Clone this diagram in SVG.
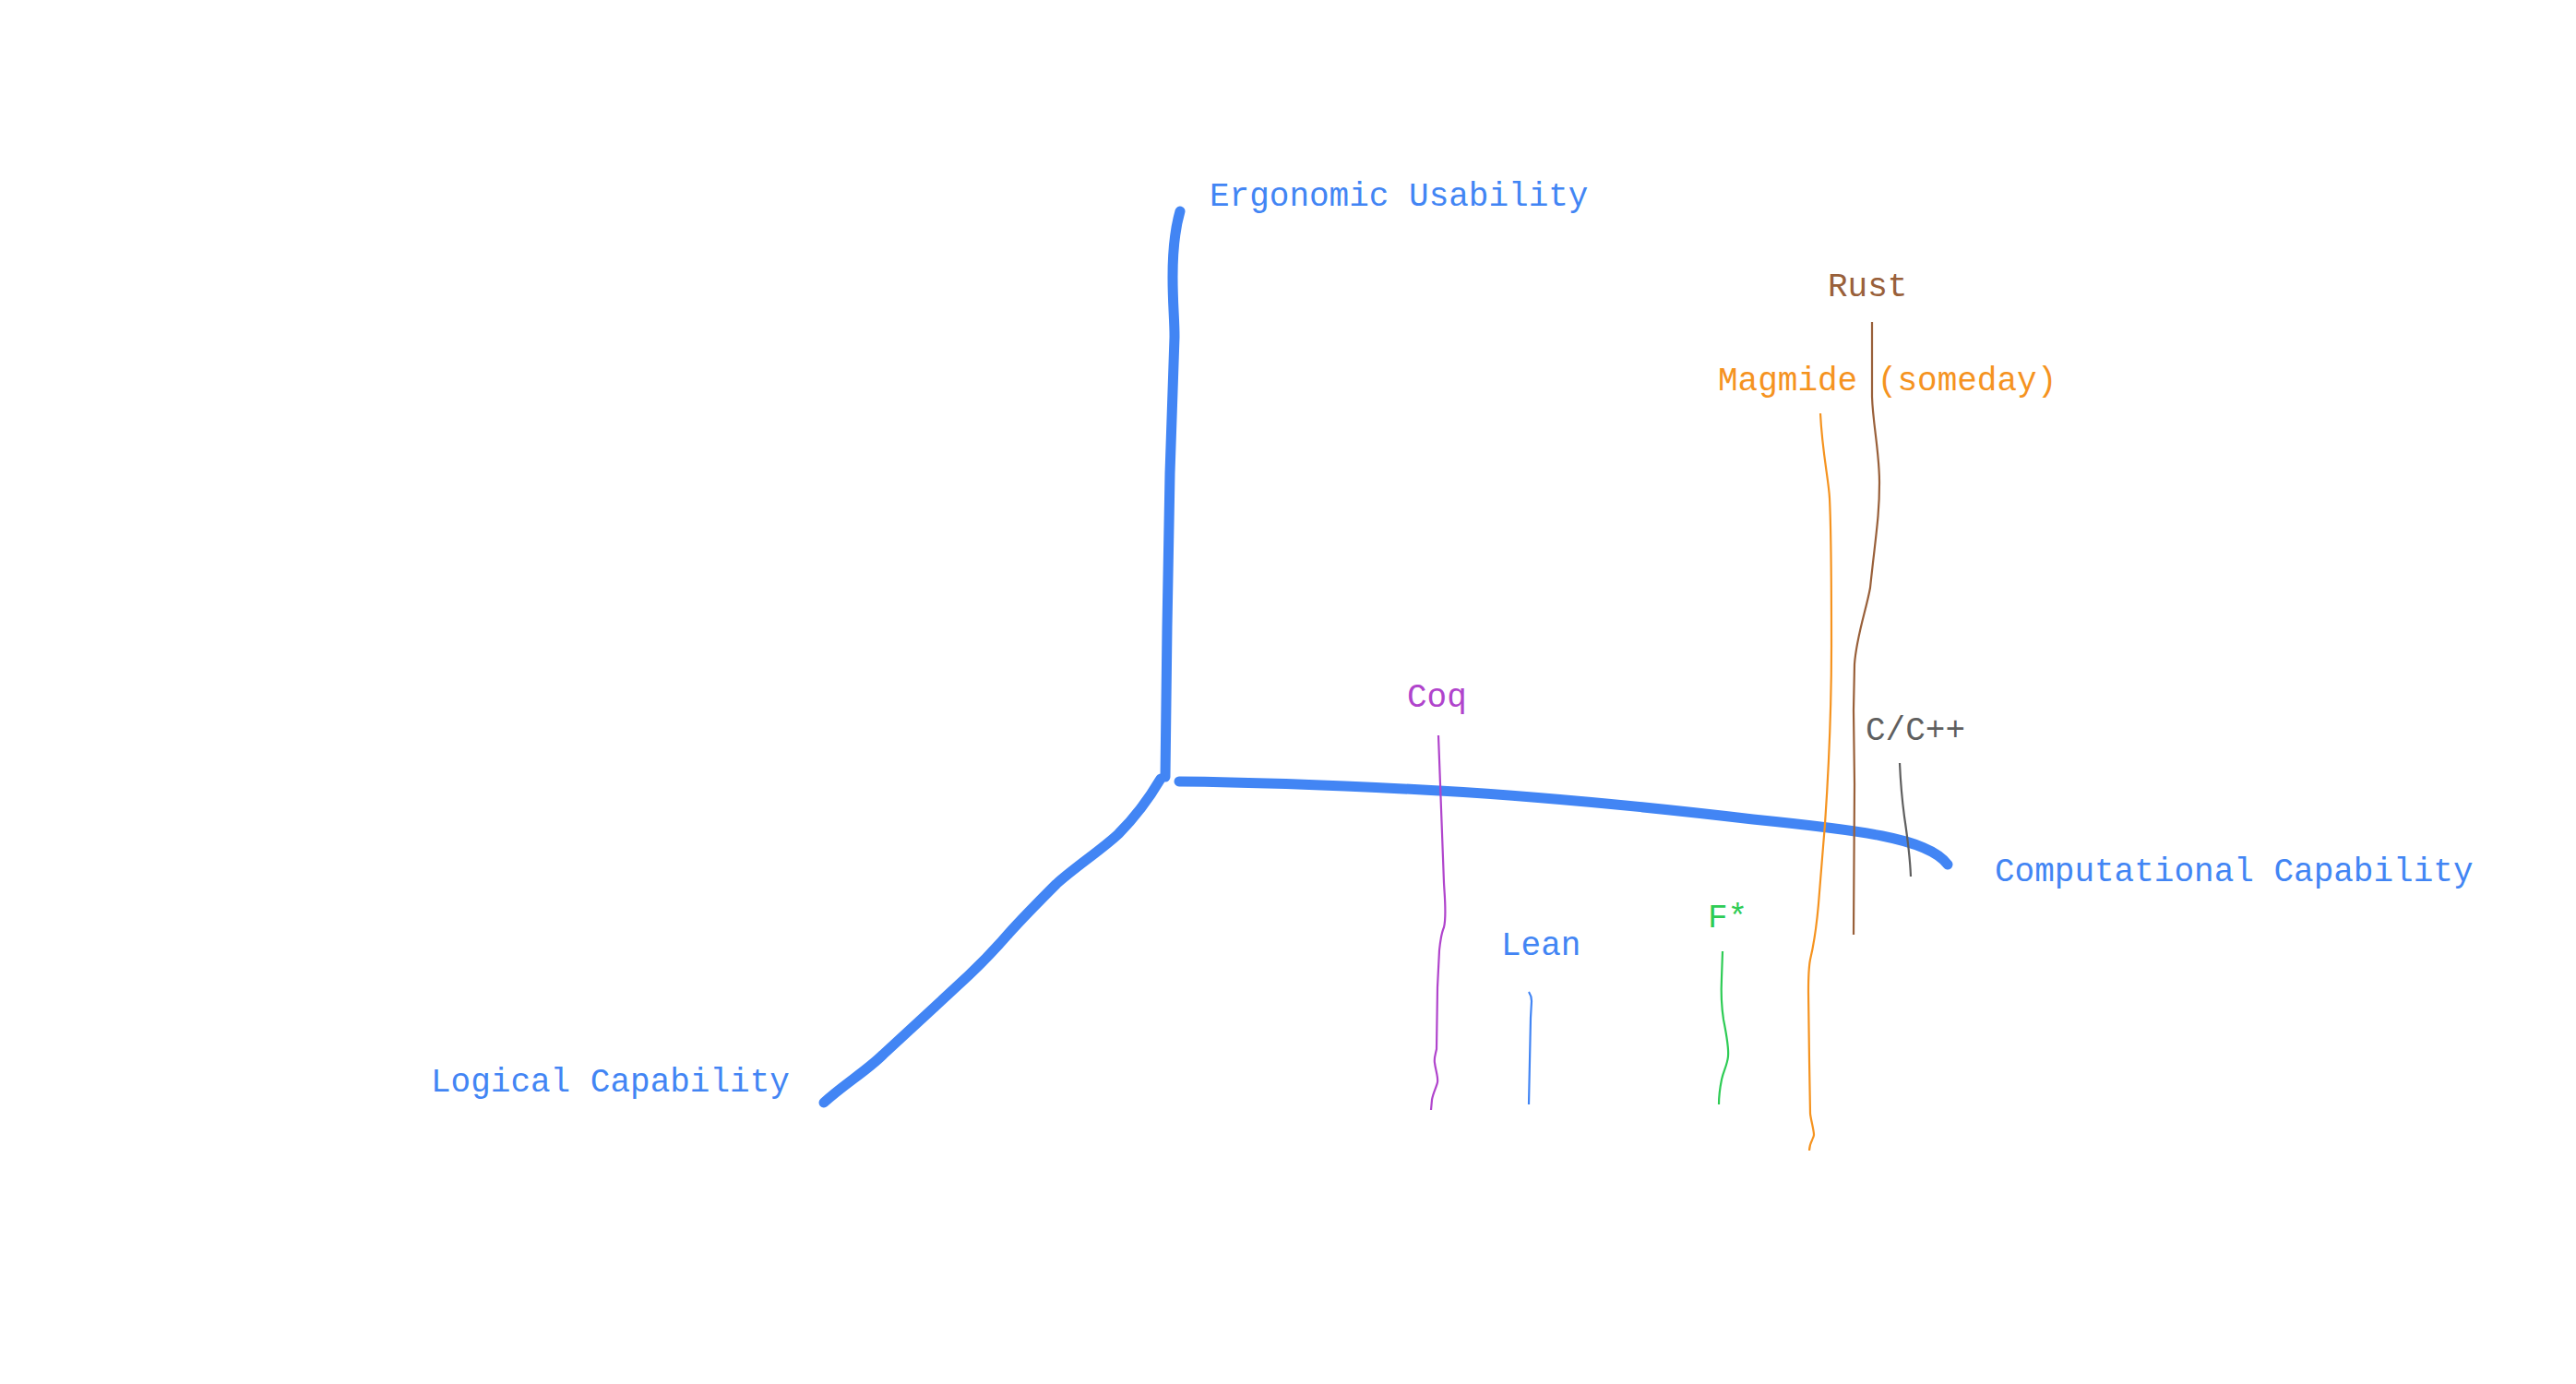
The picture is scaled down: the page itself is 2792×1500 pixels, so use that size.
<svg xmlns="http://www.w3.org/2000/svg" width="2792" height="1500" viewBox="0 0 2792 1500">
<style>
text{font-family:"Liberation Mono","DejaVu Sans Mono",monospace;font-size:36px}
.axis{fill:none;stroke:#4285F4;stroke-width:11;stroke-linecap:round;stroke-linejoin:round}
.thin{fill:none;stroke-width:2.2;stroke-linecap:butt;stroke-linejoin:round}
.blue{fill:#4285F4}
</style>
<rect width="2792" height="1500" fill="#ffffff"/>
<g id="connectors">
<path class="axis" d="M1279,229 C1273,250 1271,275 1271,300 C1271,330 1273,345 1273,365 L1268,513 L1265,680 L1263,842"/>
<path class="axis" d="M1258,844 C1245,866 1232,884 1212,904 C1195,920 1165,940 1145,958 C1128,975 1110,993 1093,1012 C1080,1027 1068,1040 1050,1057 C1020,1085 985,1117 957,1143 C940,1160 915,1175 893,1195"/>
<path class="axis" d="M1278,847 C1380,848 1450,851 1560,857 C1680,864 1790,875 1900,888 C1960,894 2010,900 2040,906 C2075,913 2100,922 2111,937"/>
<path class="thin" stroke="#99603A" d="M2029,349 L2029,430 C2030,460 2037,490 2037,523 C2037,560 2033,580 2027,637 C2023,660 2012,690 2010,720 L2009,770 L2010,850 L2009,1013"/>
<path class="thin" stroke="#F5931F" d="M1973,448 C1975,490 1982,520 1983,540 C1985,580 1985,637 1985,700 C1985,760 1983,820 1978,893 L1972,967 C1970,995 1968,1015 1962,1040 C1960,1050 1960,1060 1960,1075 L1961,1150 L1962,1207 C1963,1215 1966,1225 1966,1230 C1966,1234 1961,1238 1961,1247"/>
<path class="thin" stroke="#B044CC" d="M1559,797 L1561,850 L1565,957 C1566,975 1568,993 1565,1005 C1562,1012 1561,1020 1560,1030 L1558,1070 L1557,1137 C1556,1142 1554,1147 1555,1152 C1556,1160 1559,1168 1558,1173 C1557,1178 1553,1185 1552,1192 L1551,1203"/>
<path class="thin" stroke="#4285F4" d="M1657,1075 C1659,1078 1660,1081 1660,1085 L1659,1103 L1657,1197"/>
<path class="thin" stroke="#2ECC55" d="M1867,1031 L1866,1060 C1865,1080 1866,1092 1868,1105 C1871,1120 1874,1135 1873,1145 C1872,1155 1868,1160 1866,1170 C1864,1180 1863,1190 1863,1197"/>
<path class="thin" stroke="#5F5F5F" d="M2059,827 C2060,850 2062,870 2064,885 C2067,905 2070,925 2071,950"/>
</g>
<g id="node-ergonomic"><text class="blue" x="1311" y="223">Ergonomic Usability</text></g>
<g id="node-computational"><text class="blue" x="2162" y="955">Computational Capability</text></g>
<g id="node-logical"><text class="blue" x="467" y="1183">Logical Capability</text></g>
<g id="node-rust"><text fill="#99603A" x="1981" y="321">Rust</text></g>
<g id="node-magmide"><text fill="#F5931F" x="1862" y="423">Magmide (someday)</text></g>
<g id="node-coq"><text fill="#B044CC" x="1525" y="766">Coq</text></g>
<g id="node-cpp"><text fill="#5F5F5F" x="2022" y="802">C/C++</text></g>
<g id="node-lean"><text class="blue" x="1627" y="1035">Lean</text></g>
<g id="node-fstar"><text fill="#2ECC55" x="1851" y="1005">F*</text></g>
</svg>
